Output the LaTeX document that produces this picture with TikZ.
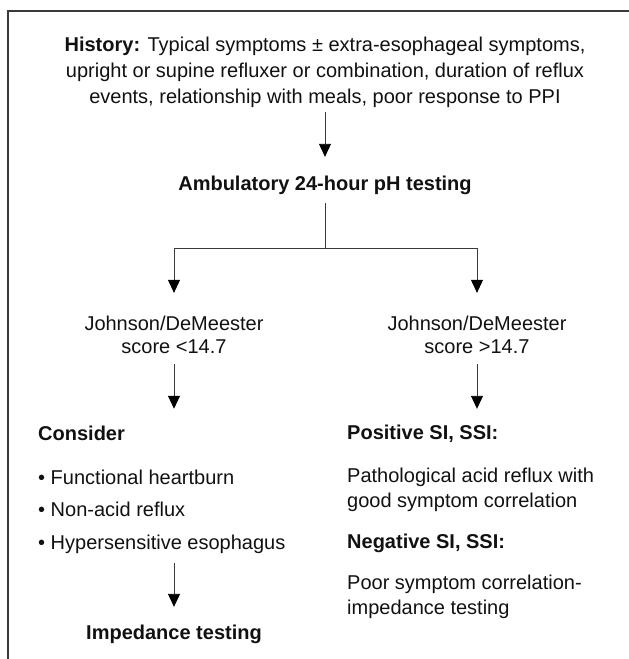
\documentclass[tikz,border=0pt]{standalone}
\usepackage{fontspec}
\setmainfont{Liberation Sans}
\usetikzlibrary{arrows.meta,positioning,calc}
\definecolor{Ink}{HTML}{111111}
\definecolor{Rule}{HTML}{3A3A3A}

\begin{document}
\begin{tikzpicture}[
  x=1pt,y=-1pt,
  txt/.style={inner sep=0pt,text=Ink,align=center,font=\fontsize{20}{23}\selectfont},
  head/.style={inner sep=0pt,text=Ink,font=\fontsize{20}{24}\selectfont\bfseries},
  item/.style={inner sep=0pt,text=Ink,anchor=west,align=left,font=\fontsize{20}{25}\selectfont},
  arrow/.style={-{Triangle[length=13pt,width=12pt,color=black]},draw=Rule,line width=0.9pt},
  link/.style={draw=Rule,line width=0.9pt}
]
\useasboundingbox (0,0) rectangle (629,659);
\draw[draw=Rule,line width=1.5pt] (8,659) -- (8,11) -- (629,11);

\node[txt,font=\fontsize{20}{26}\selectfont] (hist) at (325,72) {\textbf{History:} Typical symptoms ± extra-esophageal symptoms,\\upright or supine refluxer or combination, duration of reflux\\events, relationship with meals, poor response to PPI};
\node[head] (amb) at (325,185) {Ambulatory 24-hour pH testing};
\coordinate (fork) at (325,248);

\node[txt] (jl) at (174,334.5) {Johnson/DeMeester\\score <14.7};
\node[txt] (jr) at (477,334.5) {Johnson/DeMeester\\score >14.7};

% left branch
\node[head,anchor=west] (cons) at (38,433) {Consider};
\node[item] (b1) at (38,477) {\textbullet\ Functional heartburn};
\node[item] (b2) at (38,509) {\textbullet\ Non-acid reflux};
\node[item] (b3) at (38,544) {\textbullet\ Hypersensitive esophagus};
\node[head] (imp) at (174,634) {Impedance testing};

% right branch
\node[head,anchor=west] (pos) at (347,434) {Positive SI, SSI:};
\node[item] (path) at (347,489.5) {Pathological acid reflux with\\good symptom correlation};
\node[head,anchor=west] (neg) at (347,543) {Negative SI, SSI:};
\node[item] (poor) at (347,596.5) {Poor symptom correlation-\\impedance testing};

\draw[arrow,shorten <=4.6pt,shorten >=18.6pt] (hist) -- (amb);
\draw[link,shorten <=8.6pt] (amb) -- (fork);
\draw[arrow,shorten >=22.6pt] (fork) -| (jl);
\draw[arrow,shorten >=22.6pt] (fork) -| (jr);
\draw[arrow,shorten <=10.5pt,shorten >=16.7pt] (jl) -- (jl |- cons.north);
\draw[arrow,shorten <=10.5pt,shorten >=16.2pt] (jr) -- (jr |- pos.north);
\draw[arrow,shorten <=9.6pt,shorten >=17.6pt] (imp |- b3.south) -- (imp);
\end{tikzpicture}
\end{document}
